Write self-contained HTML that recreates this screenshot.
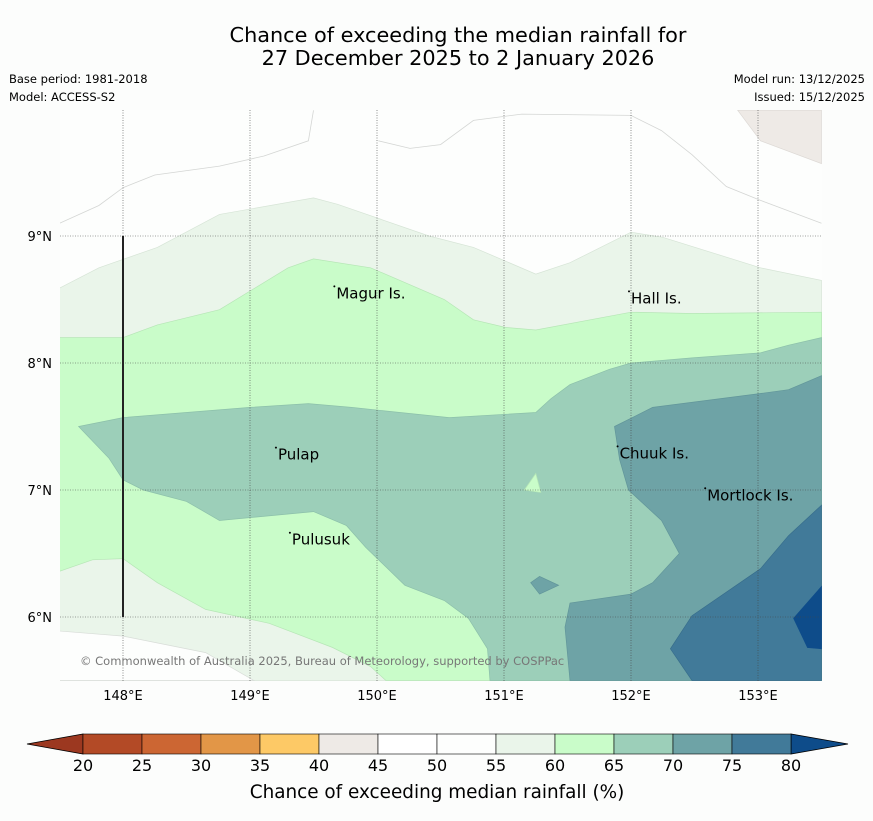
<!DOCTYPE html>
<html><head><meta charset="utf-8"><style>
body{margin:0;background:#fcfdfc;font-family:"Liberation Sans","DejaVu Sans",sans-serif;}
svg text{font-family:"DejaVu Sans","Liberation Sans",sans-serif;}
</style></head><body>
<svg id="chart" width="873" height="816" xmlns="http://www.w3.org/2000/svg">
<rect width="873" height="816" fill="#fcfdfc"/>
<text x="458" y="42" font-size="20.8" text-anchor="middle" fill="#000">Chance of exceeding the median rainfall for</text>
<text x="458" y="65" font-size="20.8" text-anchor="middle" fill="#000">27 December 2025 to 2 January 2026</text>
<text x="9" y="83" font-size="11.5">Base period: 1981-2018</text>
<text x="9" y="101" font-size="11.5">Model: ACCESS-S2</text>
<text x="865" y="83" font-size="11.5" text-anchor="end">Model run: 13/12/2025</text>
<text x="865" y="101" font-size="11.5" text-anchor="end">Issued: 15/12/2025</text>
<defs><clipPath id="mapclip"><rect x="60" y="110" width="762" height="571"/></clipPath></defs>
<g id="map" clip-path="url(#mapclip)">
<rect x="60" y="110" width="762" height="571" fill="#fdfefd"/>
</g>
<g id="grid"></g>
<g id="labels"></g>
<text x="80" y="665" font-size="11.5" fill="#777">© Commonwealth of Australia 2025, Bureau of Meteorology, supported by COSPPac</text>
<g id="axes"></g>
<g id="cbar"></g>
<text x="437" y="798" font-size="18.4" text-anchor="middle">Chance of exceeding median rainfall (%)</text>
</svg>
<script>
const lonTicks=[148,149,150,151,152,153];
const latTicks=[9,8,7,6];
const cbLevels=[20,25,30,35,40,45,50,55,60,65,70,75,80];
const cbColors=["#b34a26","#cc6633","#e29647","#fdc966","#eeeae6","#ffffff","#fdfefd","#eaf5ea","#c9fcc9","#9ccfb9","#6ea3a6","#417a99"];
const underColor="#9c3820", overColor="#0e4c8a";
const band4045=[[152.84,9.99],[153.50,9.99],[153.50,9.57],[153.02,9.75]];
const top5560=[[147.50,8.59],[147.81,8.75],[148.27,8.91],[148.76,9.17],[149.50,9.30],[149.69,9.25],[150.41,9.00],[150.76,8.91],[151.25,8.70],[151.52,8.79],[152.00,9.03],[152.25,8.99],[153.02,8.75],[153.50,8.65]];
const top6065=[[147.50,8.20],[148.00,8.20],[148.27,8.30],[148.76,8.42],[149.30,8.75],[149.50,8.82],[149.95,8.75],[150.53,8.50],[150.76,8.34],[151.01,8.28],[151.25,8.26],[152.00,8.40],[152.48,8.39],[153.50,8.40]];
const bot6065=[[147.50,6.36],[147.76,6.45],[148.00,6.46],[148.27,6.27],[148.65,6.06],[149.15,5.95],[149.65,5.76],[149.95,5.61],[150.07,5.50]];
const botWhite=[[147.50,5.89],[148.00,5.85],[148.65,5.72],[149.03,5.50],[147.50,5.50]];
const band6570=[[147.65,7.50],[148.00,7.57],[149.00,7.65],[149.46,7.68],[149.80,7.65],[150.57,7.57],[151.25,7.61],[151.37,7.72],[151.52,7.83],[151.83,7.95],[152.00,8.00],[152.48,8.04],[153.02,8.08],[153.24,8.14],[153.50,8.20],[153.50,5.50],[150.89,5.50],[150.87,5.75],[150.72,5.99],[150.53,6.13],[150.22,6.25],[149.91,6.55],[149.76,6.72],[149.50,6.83],[148.76,6.76],[148.50,6.91],[148.16,7.00],[148.00,7.08],[147.89,7.25]];
const hole6065=[[151.16,7.00],[151.25,7.13],[151.29,6.98]];
const band7075=[[153.50,7.90],[153.24,7.79],[153.02,7.76],[152.17,7.65],[151.87,7.50],[151.91,7.24],[151.98,7.00],[152.24,6.76],[152.38,6.50],[152.17,6.27],[152.00,6.18],[151.52,6.11],[151.48,5.92],[151.52,5.50],[153.50,5.50]];
const isle7075=[[151.21,6.27],[151.28,6.32],[151.43,6.25],[151.28,6.18]];
const band7580=[[153.50,6.88],[153.24,6.64],[153.02,6.38],[152.48,6.01],[152.31,5.75],[152.48,5.50],[153.50,5.50]];
const band80=[[153.50,6.24],[153.28,5.99],[153.39,5.76],[153.50,5.75]];
const lineA=[[147.50,9.10],[147.81,9.24],[148.00,9.38],[148.25,9.48],[148.76,9.55],[149.11,9.63],[149.46,9.75],[149.50,9.99]];
const lineB=[[150.01,9.75],[150.26,9.69],[150.50,9.72],[150.76,9.91],[151.14,9.96],[152.00,9.95],[152.24,9.83],[152.48,9.64],[152.75,9.39],[153.02,9.28],[153.50,9.10]];
const placeNames=["Magur Is.","Hall Is.","Pulap","Chuuk Is.","Mortlock Is.","Pulusuk"];
const placeLon=[149.68,152.00,149.22,151.91,152.60,149.33];
const placeLat=[8.58,8.54,7.31,7.32,6.99,6.64];

const NS="http://www.w3.org/2000/svg";
const X=lon=>123+(lon-148)*127, Y=lat=>236+(9-lat)*127;
function mk(tag,attrs,parent){const e=document.createElementNS(NS,tag);for(const k in attrs)e.setAttribute(k,attrs[k]);parent.appendChild(e);return e;}
const pts=a=>a.map(p=>X(p[0]).toFixed(1)+","+Y(p[1]).toFixed(1)).join(" ");
const map=document.getElementById('map');
function poly(a,fill,stroke,name){const e=mk('polygon',{points:pts(a),fill:fill,stroke:stroke,'stroke-width':0.7},map);

}
function line(a,name){const e=mk('polyline',{points:pts(a),fill:'none',stroke:'#d4d6d4','stroke-width':0.8},map);

}
poly(band4045,cbColors[4],'#ddd9d5','band-40-45');
line(lineA,'contour-50-west');
line(lineB,'contour-50-east');
poly(top5560.concat([[153.5,5.5],[147.5,5.5]]),cbColors[7],'#d6e4d6','band-55-60');
poly(top6065.concat([[153.5,5.5]],bot6065.slice().reverse()),cbColors[8],'#b6e6b6','band-60-65');
poly(botWhite,'#fdfefd','#d8ddd8','band-50-55-south');
poly(band6570,cbColors[9],'#8cc0aa','band-65-70');
poly(hole6065,cbColors[8],'#b6e6b6','pocket-60-65');
poly(band7075,cbColors[10],'#62969a','band-70-75');
poly(isle7075,cbColors[10],'#62969a','pocket-70-75');
poly(band7580,cbColors[11],'#386e8c','band-75-80');
poly(band80,overColor,'#0e4c8a','band-above-80');

const grid=document.getElementById('grid');
lonTicks.forEach(l=>{const e=mk('line',{x1:X(l),x2:X(l),y1:110,y2:681,stroke:'#444','stroke-width':0.6,'stroke-dasharray':'1,1.5'},grid);

});
latTicks.forEach(l=>{const e=mk('line',{x1:60,x2:822,y1:Y(l),y2:Y(l),stroke:'#444','stroke-width':0.6,'stroke-dasharray':'1,1.5'},grid);

});
const bl=mk('line',{x1:X(148),x2:X(148),y1:Y(9),y2:Y(6),stroke:'#222','stroke-width':2},grid);



const labs=document.getElementById('labels');
placeNames.forEach((n,i)=>{const t=mk('text',{x:X(placeLon[i]),y:Y(placeLat[i])+9,'font-size':15,fill:'#000'},labs);t.textContent=n;


const d=mk('circle',{cx:X(placeLon[i])-2,cy:Y(placeLat[i])-3,r:1,fill:'#000'},labs);

});

const ax=document.getElementById('axes');
lonTicks.forEach(l=>{const t=mk('text',{x:X(l),y:700,'font-size':13,'text-anchor':'middle'},ax);t.textContent=l+"°E";

});
latTicks.forEach(l=>{const t=mk('text',{x:52,y:Y(l)+5,'font-size':13,'text-anchor':'end'},ax);t.textContent=l+"°N";

});

const cb=document.getElementById('cbar');
const cx=v=>83+(v-20)*(708/60);
const tu=mk('polygon',{points:`27,744 ${cx(20)},734 ${cx(20)},754`,fill:underColor,stroke:'#000','stroke-width':0.8},cb);


const to=mk('polygon',{points:`848,744 ${cx(80)},734 ${cx(80)},754`,fill:overColor,stroke:'#000','stroke-width':0.8},cb);


cbColors.forEach((c,i)=>{const r=mk('rect',{x:cx(cbLevels[i]),y:734,width:cx(cbLevels[i+1])-cx(cbLevels[i]),height:20,fill:c,stroke:'#000','stroke-width':0.6},cb);

});
cbLevels.forEach(v=>{const t=mk('text',{x:cx(v),y:771,'font-size':16,'text-anchor':'middle'},cb);t.textContent=v;

});
</script>
</body></html>
